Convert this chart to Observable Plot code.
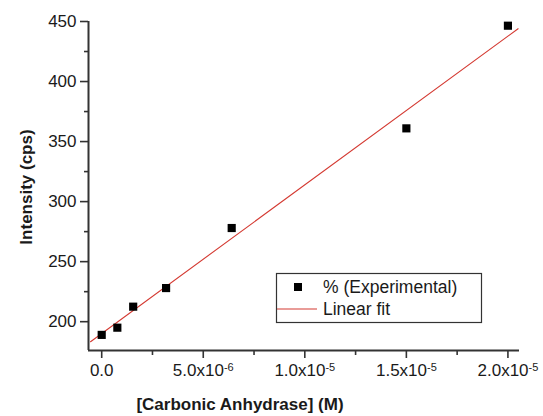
<!DOCTYPE html>
<html><head><meta charset="utf-8">
<script src="https://cdn.jsdelivr.net/npm/d3@7"></script>
<script src="https://cdn.jsdelivr.net/npm/@observablehq/plot@0.6"></script>
<style>
body{margin:0;background:#fff}
#chart{position:relative;width:543px;height:416px}
</style>
</head><body><div id="chart"></div>
<script>
// Data
const concentration = [0, 7.7e-7, 1.55e-6, 3.17e-6, 6.4e-6, 1.5e-5, 2.0e-5];
const intensity = [189, 195, 212.5, 228, 278, 361, 446.5];
// Linear fit line endpoints (as drawn)
const fitConcentration = [-5.5e-7, 2.05e-5];
const fitIntensity = [183.3, 444];
// Axes
const xDomain = [-6.5e-7, 2.057e-5];
const yDomain = [176, 450];
const xMajorTicks = [0, 5e-6, 1e-5, 1.5e-5, 2e-5];
const xTickLabels = ["0.0", "5.0x10|-6", "1.0x10|-5", "1.5x10|-5", "2.0x10|-5"];
const xMinorTicks = [2.5e-6, 7.5e-6, 1.25e-5, 1.75e-5];
const yMajorTicks = [200, 250, 300, 350, 400, 450];
const yMinorTicks = [225, 275, 325, 375, 425];
const xTitle = "[Carbonic Anhydrase] (M)";
const yTitle = "Intensity (cps)";
const legendLabels = ["% (Experimental)", "Linear fit"];

const points = concentration.map((c, i) => ({c, v: intensity[i]}));
const fit = fitConcentration.map((c, i) => ({c, v: fitIntensity[i]}));

const axisColor = "#333";
const fitColor = "#d43a32";
const W = 543, H = 416;
const font = "'Liberation Sans', Arial, sans-serif";

const svg = Plot.plot({
  width: W, height: H,
  marginLeft: 88, marginRight: 24, marginTop: 21, marginBottom: 66,
  style: {fontFamily: font, fontSize: "17px", color: "#1a1a1a", background: "#fff"},
  x: {domain: xDomain, label: null},
  y: {domain: yDomain, label: null},
  marks: [
    Plot.line(fit, {x: "c", y: "v", stroke: fitColor, strokeWidth: 1.1}),
    Plot.dot(points, {x: "c", y: "v", symbol: "square", r: 4.6, fill: "#000", stroke: "none"}),
    Plot.ruleY([yDomain[0]], {stroke: axisColor, strokeWidth: 2}),
    Plot.ruleX([xDomain[0]], {stroke: axisColor, strokeWidth: 2}),
    Plot.axisX(xMajorTicks, {tickSize: 8, tickPadding: 5, strokeWidth: 1.6, stroke: axisColor,
      tickFormat: (d) => xTickLabels[xMajorTicks.indexOf(d)], fontSize: 17}),
    Plot.axisX(xMinorTicks, {tickSize: 5, text: null, strokeWidth: 1.6, stroke: axisColor}),
    Plot.axisY(yMajorTicks, {tickSize: 8, tickPadding: 4, strokeWidth: 1.6, stroke: axisColor, fontSize: 17}),
    Plot.axisY(yMinorTicks, {tickSize: 4, text: null, strokeWidth: 1.6, stroke: axisColor})
  ]
});

// superscript exponents in x tick labels
d3.select(svg).selectAll("text").each(function() {
  const t = this.textContent;
  if (t.includes("|")) {
    const [base, exp] = t.split("|");
    const sel = d3.select(this);
    sel.text(null);
    sel.append("tspan").text(base);
    sel.append("tspan").attr("dy", "-0.42em").attr("font-size", "11px").text(exp);
  }
});

const s = d3.select(svg);
s.append("text").attr("x", 240).attr("y", 410).attr("text-anchor", "middle")
  .attr("font-family", font).attr("font-size", 17).attr("font-weight", "bold").attr("fill", "#1a1a1a").text(xTitle);
s.append("text").attr("transform", "translate(32,187) rotate(-90)").attr("text-anchor", "middle")
  .attr("font-family", font).attr("font-size", 17).attr("font-weight", "bold").attr("fill", "#1a1a1a").text(yTitle);

// legend
const lg = s.append("g").attr("font-family", font).attr("font-size", 17.5).attr("text-anchor", "start");
lg.append("rect").attr("x", 276.5).attr("y", 273.5).attr("width", 205).attr("height", 49)
  .attr("fill", "#fff").attr("stroke", "#333").attr("stroke-width", 1.2);
lg.append("rect").attr("x", 294).attr("y", 283).attr("width", 8).attr("height", 8).attr("fill", "#000");
lg.append("line").attr("x1", 277).attr("x2", 317).attr("y1", 309).attr("y2", 309)
  .attr("stroke", fitColor).attr("stroke-width", 1.1);
lg.append("text").attr("x", 323).attr("y", 293).attr("fill", "#1a1a1a").text(legendLabels[0]);
lg.append("text").attr("x", 323).attr("y", 315).attr("fill", "#1a1a1a").text(legendLabels[1]);

document.getElementById("chart").appendChild(svg);
</script>
</body></html>
